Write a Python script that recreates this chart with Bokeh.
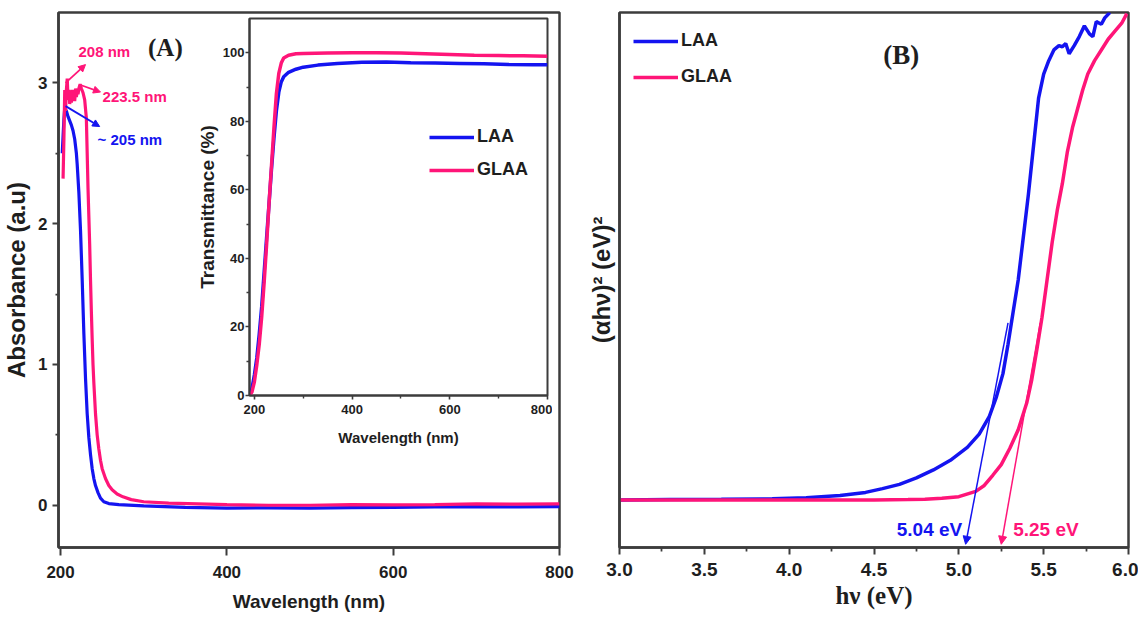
from bokeh.plotting import figure
from bokeh.models import (GridBox, Arrow, NormalHead, FixedTicker, PrintfTickFormatter,
                          Legend, LegendItem, ColumnDataSource)
from bokeh.core.properties import value
from bokeh.embed import file_html
from bokeh.resources import INLINE

BLUE = "#1414f0"
PINK = "#ff1578"
AXC = "#3c3c3c"
TXT = "#1e1e1e"
SANS = "Liberation Sans"
SERIF = "Liberation Serif"

series_names = ["LAA", "GLAA"]

# ---------- Panel A : absorbance ----------
laa_abs_wl = [202, 203, 204, 205, 207, 209, 211, 213, 215, 217, 219, 220, 222, 224, 226,
              228, 230, 232, 234, 236, 238, 240, 242, 245, 248, 252, 258, 270, 300, 350,
              400, 450, 500, 550, 600, 650, 700, 750, 800]
laa_abs = [2.50, 2.62, 2.74, 2.82, 2.80, 2.76, 2.73, 2.70, 2.66, 2.60, 2.50, 2.42, 2.22, 1.95, 1.60,
           1.22, 0.90, 0.65, 0.48, 0.36, 0.26, 0.19, 0.14, 0.09, 0.05, 0.025, 0.012, 0.005, -0.005, -0.015,
           -0.02, -0.018, -0.02, -0.017, -0.015, -0.012, -0.01, -0.012, -0.01]

glaa_abs_wl = [203, 204, 205, 206, 207, 208, 209, 210, 211, 212, 213, 214, 215, 216, 217, 218, 219, 220,
               221, 222, 223.5, 225, 227, 229, 231, 232, 233, 234, 235, 236, 237, 238, 239, 240, 242,
               244, 246, 248, 250, 254, 258, 262, 268, 275, 285, 300, 330, 400, 450, 500, 550, 600,
               650, 700, 750, 800]
glaa_abs = [2.32, 2.60, 2.95, 2.80, 2.95, 3.03, 2.88, 2.95, 2.85, 2.92, 2.86, 2.95, 2.88, 2.93, 2.87,
            2.96, 2.90, 2.94, 2.92, 2.96, 2.99, 2.96, 2.93, 2.88, 2.75, 2.50, 2.25, 2.05, 1.85, 1.60,
            1.38, 1.18, 1.00, 0.87, 0.65, 0.50, 0.40, 0.32, 0.26, 0.19, 0.14, 0.11, 0.08, 0.06, 0.04,
            0.025, 0.015, 0.005, 0.0, 0.0, 0.005, 0.003, 0.005, 0.01, 0.008, 0.01]

abs_xticks = [200, 400, 600, 800]
abs_yticks = [0, 1, 2, 3]
abs_yminor = [-0.5, 0.5, 1.5, 2.5]

peak_labels = ["208 nm", "223.5 nm", "~ 205 nm"]
peak_colors = [PINK, PINK, BLUE]
peak_label_x = [221.5, 250.5, 244.5]
peak_label_y = [3.22, 2.90, 2.60]
peak_arrow_x0 = [206, 224, 206]
peak_arrow_y0 = [3.0, 2.985, 2.835]
peak_arrow_x1 = [230, 248, 247]
peak_arrow_y1 = [3.13, 2.935, 2.69]

# ---------- Inset : transmittance ----------
laa_tr_wl = [190, 195, 200, 205, 210, 215, 220, 225, 230, 235, 240, 245, 250, 255, 260,
             270, 285, 300, 330, 370, 420, 470, 520, 570, 620, 670, 720, 770, 800]
laa_tr = [0, 2, 6, 11, 18, 26, 36, 46, 56, 66, 75, 83, 88.5, 91.5, 93,
          94.3, 95.2, 95.8, 96.4, 96.9, 97.2, 97.3, 97.1, 97.0, 96.9, 96.8, 96.6, 96.5, 96.5]
glaa_tr_wl = [190, 195, 200, 205, 210, 215, 220, 225, 230, 235, 240, 245, 250, 255, 260,
              270, 285, 300, 350, 400, 450, 500, 550, 600, 650, 700, 750, 800]
glaa_tr = [0, 1, 4, 9, 15, 23, 33, 44, 56, 67, 78, 88, 94, 97, 98.5,
           99.3, 99.7, 99.8, 99.9, 100, 100, 99.9, 99.7, 99.5, 99.3, 99.2, 99.1, 99.0]
tr_xticks = [200, 400, 600, 800]
tr_xminor = [300, 500, 700]
tr_yticks = [0, 20, 40, 60, 80, 100]
tr_yminor = [10, 30, 50, 70, 90]

# ---------- Panel B : Tauc plot ----------
laa_ev = [3.0, 3.3, 3.6, 3.9, 4.1, 4.3, 4.45, 4.55, 4.65, 4.75, 4.85, 4.95, 5.05, 5.12, 5.18,
          5.22, 5.26, 5.29, 5.32, 5.35, 5.38, 5.41, 5.44, 5.47, 5.50, 5.53, 5.56, 5.59, 5.61, 5.63,
          5.65, 5.68, 5.71, 5.74, 5.77, 5.79, 5.81, 5.84, 5.86, 5.89]
laa_tauc = [8.9, 8.95, 9.0, 9.1, 9.3, 9.7, 10.3, 11.0, 11.8, 13.0, 14.5, 16.3, 18.7, 21.2, 24.5,
            28.0, 32.5, 38.0, 44.0, 50.0, 58.0, 66.0, 75.0, 84.0, 88.5, 91.0, 93.0, 93.8, 93.6, 94.2,
            92.3, 93.8, 95.5, 97.5, 96.0, 95.5, 98.3, 97.8, 99.0, 100.0]
glaa_ev = [3.0, 3.5, 4.0, 4.5, 4.7, 4.8, 4.9, 5.0, 5.1, 5.15, 5.2, 5.25, 5.3, 5.35, 5.40,
           5.43, 5.46, 5.49, 5.52, 5.55, 5.58, 5.61, 5.64, 5.67, 5.70, 5.73, 5.76, 5.80, 5.84, 5.88,
           5.92, 5.96, 5.99]
glaa_tauc = [8.9, 8.9, 8.9, 8.9, 8.95, 9.0, 9.2, 9.5, 10.5, 11.6, 13.5, 15.5, 18.5, 22.0, 27.0,
             31.4, 37.0, 43.0, 50.0, 57.0, 63.0, 68.0, 74.0, 78.5, 82.0, 85.5, 88.5, 91.0, 93.0, 95.0,
             96.5, 98.0, 99.8]
ev_xticks = [3.0, 3.5, 4.0, 4.5, 5.0, 5.5, 6.0]
ev_xminor = [3.25, 3.75, 4.25, 4.75, 5.25, 5.75]

gap_labels = ["5.04 eV", "5.25 eV"]
gap_colors = [BLUE, PINK]
gap_values = [5.04, 5.25]
gap_line_top_x = [5.29, 5.48]
gap_line_top_y = [42, 42]
gap_label_x = [5.02, 5.32]
gap_label_y = [3.3, 3.3]
gap_label_align = ["right", "left"]


def style(p, lw, tick_font, tick_size, label_size, label_font=SANS):
    p.outline_line_color = AXC
    p.outline_line_width = lw
    p.outline_line_alpha = 1.0
    p.xgrid.visible = False
    p.ygrid.visible = False
    p.background_fill_color = "white"
    for ax in p.axis:
        ax.axis_line_color = AXC
        ax.axis_line_width = lw
        ax.major_tick_line_color = AXC
        ax.major_tick_line_width = lw * 0.8
        ax.minor_tick_line_color = AXC
        ax.minor_tick_line_width = lw * 0.7
        ax.major_tick_in = 0
        ax.minor_tick_in = 0
        ax.major_label_text_font = tick_font
        ax.major_label_text_font_style = "bold"
        ax.major_label_text_font_size = tick_size
        ax.major_label_text_color = TXT
        ax.axis_label_text_font = label_font
        ax.axis_label_text_font_style = "bold"
        ax.axis_label_text_font_size = label_size
        ax.axis_label_text_color = TXT


# ---------------- Panel A ----------------
pA = figure(width=575, height=616, x_range=(197.5, 800), y_range=(-0.3, 3.5),
            output_backend="svg", toolbar_location=None,
            min_border_left=58, min_border_right=16, min_border_top=12, min_border_bottom=69)
style(pA, 2.5, SANS, "17px", "24px")
pA.xaxis.ticker = FixedTicker(ticks=abs_xticks, minor_ticks=[])
pA.yaxis.ticker = FixedTicker(ticks=abs_yticks, minor_ticks=abs_yminor)
pA.xaxis.axis_label = "Wavelength (nm)"
pA.xaxis.axis_label_text_font_size = "19px"
pA.yaxis.axis_label = "Absorbance (a.u)"
pA.xaxis.major_tick_out = 8
pA.xaxis.major_label_standoff = 10
pA.xaxis.axis_label_standoff = 10
pA.yaxis.major_tick_out = 6
pA.yaxis.minor_tick_out = 3
pA.yaxis.major_label_standoff = 5
pA.yaxis.axis_label_standoff = 5

pA.line(laa_abs_wl, laa_abs, line_color=BLUE, line_width=3.2)
pA.line(glaa_abs_wl, glaa_abs, line_color=PINK, line_width=3.2)

for i in range(len(peak_labels)):
    c = peak_colors[i]
    pA.add_layout(Arrow(end=NormalHead(size=7, fill_color=c, line_color=c, line_width=1),
                        x_start=peak_arrow_x0[i], y_start=peak_arrow_y0[i],
                        x_end=peak_arrow_x1[i], y_end=peak_arrow_y1[i],
                        line_color=c, line_width=1.8))
srcA = ColumnDataSource(dict(x=peak_label_x, y=peak_label_y, t=peak_labels, c=peak_colors))
pA.text(x="x", y="y", text="t", text_color="c", source=srcA, text_font=value(SANS),
        text_font_style="bold", text_font_size="15px", text_baseline="middle", text_align="left")
pA.text(x=[326], y=[3.25], text=["(A)"], text_font=value(SERIF), text_font_style="bold",
        text_font_size="25px", text_baseline="middle", text_align="center", text_color=TXT)

# ---------------- Inset ----------------
pI = figure(width=359, height=446, x_range=(190, 800), y_range=(0, 110),
            output_backend="svg", toolbar_location=None,
            min_border_left=50, min_border_right=5, min_border_top=4, min_border_bottom=65)
style(pI, 2.0, SANS, "13px", "19px")
pI.border_fill_color = None
pI.xaxis.ticker = FixedTicker(ticks=tr_xticks, minor_ticks=tr_xminor)
pI.yaxis.ticker = FixedTicker(ticks=tr_yticks, minor_ticks=tr_yminor)
pI.xaxis.axis_label = "Wavelength (nm)"
pI.xaxis.axis_label_text_font_size = "15px"
pI.yaxis.axis_label = "Transmittance (%)"
pI.xaxis.major_tick_out = 4
pI.xaxis.minor_tick_out = 3
pI.xaxis.major_label_standoff = 5
pI.xaxis.axis_label_standoff = 12
pI.yaxis.major_tick_out = 4
pI.yaxis.minor_tick_out = 3
pI.yaxis.major_label_standoff = 1
pI.yaxis.axis_label_standoff = 2

rI1 = pI.line(laa_tr_wl, laa_tr, line_color=BLUE, line_width=3.5)
rI2 = pI.line(glaa_tr_wl, glaa_tr, line_color=PINK, line_width=3.5)
legI = Legend(items=[LegendItem(label=series_names[0], renderers=[rI1]),
                     LegendItem(label=series_names[1], renderers=[rI2])],
              location=(180, 215), glyph_width=45, glyph_height=20, label_height=20,
              spacing=12, padding=0, margin=0, label_standoff=3,
              border_line_alpha=0, background_fill_alpha=0,
              label_text_font=SANS, label_text_font_style="bold", label_text_font_size="18px",
              label_text_color=TXT)
pI.add_layout(legI)

# ---------------- Panel B ----------------
pB = figure(width=563, height=616, x_range=(3.0, 6.0), y_range=(0, 100),
            output_backend="svg", toolbar_location=None,
            min_border_left=44, min_border_right=10, min_border_top=9, min_border_bottom=66)
style(pB, 2.5, SANS, "19px", "24px")
pB.xaxis.ticker = FixedTicker(ticks=ev_xticks, minor_ticks=ev_xminor)
pB.xaxis.formatter = PrintfTickFormatter(format="%.1f")
pB.yaxis.ticker = FixedTicker(ticks=[], minor_ticks=[])
pB.xaxis.axis_label = "hν (eV)"
pB.xaxis.axis_label_text_font = SERIF
pB.xaxis.axis_label_text_font_size = "25px"
pB.yaxis.axis_label = "(αhν)² (eV)²"
pB.xaxis.major_tick_out = 7
pB.xaxis.minor_tick_out = 4
pB.xaxis.major_label_standoff = 8
pB.xaxis.axis_label_standoff = 3
pB.yaxis.axis_label_standoff = 5

rB1 = pB.line(laa_ev, laa_tauc, line_color=BLUE, line_width=3.5)
rB2 = pB.line(glaa_ev, glaa_tauc, line_color=PINK, line_width=3.5)
for i in range(len(gap_values)):
    c = gap_colors[i]
    pB.add_layout(Arrow(end=NormalHead(size=8, fill_color=c, line_color=c, line_width=1),
                        x_start=gap_line_top_x[i], y_start=gap_line_top_y[i],
                        x_end=gap_values[i], y_end=0.6, line_color=c, line_width=1.5))
srcB = ColumnDataSource(dict(x=gap_label_x, y=gap_label_y, t=gap_labels, c=gap_colors, a=gap_label_align))
pB.text(x="x", y="y", text="t", text_color="c", text_align="a", source=srcB, text_font=value(SANS),
        text_font_style="bold", text_font_size="19px", text_baseline="middle")
pB.text(x=[4.66], y=[92], text=["(B)"], text_font=value(SERIF), text_font_style="bold",
        text_font_size="27px", text_baseline="middle", text_align="center", text_color=TXT)
legB = Legend(items=[LegendItem(label=series_names[0], renderers=[rB1]),
                     LegendItem(label=series_names[1], renderers=[rB2])],
              location=(14, 460), glyph_width=45, glyph_height=20, label_height=20,
              spacing=15, padding=0, margin=0, label_standoff=3,
              border_line_alpha=0, background_fill_alpha=0,
              label_text_font=SANS, label_text_font_style="bold", label_text_font_size="18px",
              label_text_color=TXT)
pB.add_layout(legB)

grid = GridBox(children=[(pA, 0, 0, 3, 3), (pI, 1, 1, 1, 1), (pB, 0, 3, 3, 1)],
               rows=["14px", "446px", "156px"], cols=["193px", "359px", "23px", "563px"],
               spacing=0)

open("out.html", "w").write(file_html(grid, INLINE))
